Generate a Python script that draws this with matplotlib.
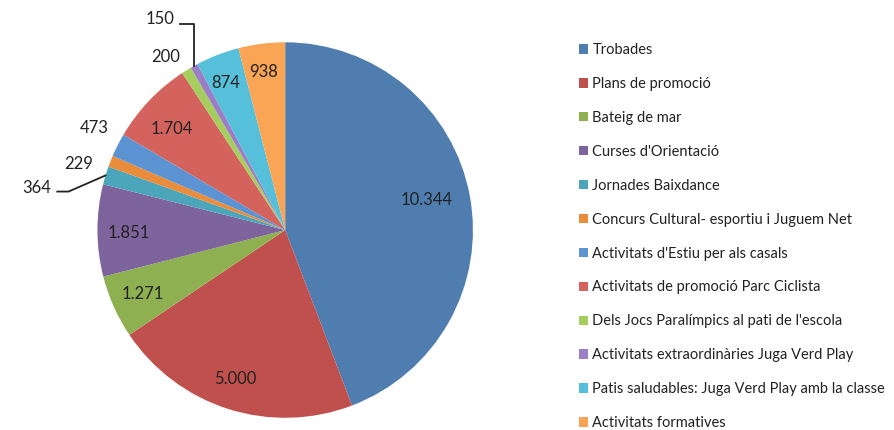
import numpy as np
import matplotlib
matplotlib.use('Agg')
import matplotlib.pyplot as plt

plt.rcParams['font.family'] = ['Lato', 'DejaVu Sans']

# dades
categories = ['Trobades', 'Plans de promoció', 'Bateig de mar', "Curses d'Orientació",
              'Jornades Baixdance', 'Concurs Cultural- esportiu i Juguem Net',
              "Activitats d'Estiu per als casals", 'Activitats de promoció Parc Ciclista',
              "Dels Jocs Paralímpics al pati de l'escola",
              'Activitats extraordinàries Juga Verd Play',
              'Patis saludables: Juga Verd Play amb la classe', 'Activitats formatives']
values = [10344, 5000, 1271, 1851, 364, 229, 473, 1704, 200, 150, 874, 938]

colors = ['#4F7DAF', '#C0504D', '#8FB050', '#7E649D', '#4BA6BC', '#E98C3B',
          '#5B93D3', '#D4635D', '#A6CE5E', '#9B7EC6', '#56BFD9', '#F9A555']

# posicio radial de cada etiqueta (fraccio del radi) i petit gir en graus
label_r = [0.77, 0.84, 0.83, 0.835, 1.34, 1.155, 1.15, 0.81, 1.12, 1.30, 0.845, 0.85]
label_shift = [1.5, -1, 0, 1, 0, 3.8, -1.2, 1.8, 2.9, 0, 1, 0.7]

fig = plt.figure(figsize=(8.94, 4.30), dpi=100)
ax = fig.add_axes((0.109, 0.028, 0.42, 0.874))

wedges, _ = ax.pie(values, colors=colors, startangle=90, counterclock=False,
                   wedgeprops=dict(linewidth=0))
ax.set_aspect('equal')
ax.set_xlim(-1, 1)
ax.set_ylim(-1, 1)

for w, v, r, s in zip(wedges, values, label_r, label_shift):
    mid = np.deg2rad((w.theta1 + w.theta2) / 2 + s)
    txt = f'{v:,}'.replace(',', '.')
    x, y = r * np.cos(mid), r * np.sin(mid)
    if v in (364, 150):
        ex, ey = np.cos(mid), np.sin(mid)
        if v == 364:
            # linia guia cap a l'esquerra
            x, y = -1.324, 0.223
            ax.plot([x + 0.11, x + 0.17, ex], [y - 0.018, y - 0.018, ey],
                    color='#222222', lw=1.3, clip_on=False)
        else:
            x, y = -0.665, 1.122
            ax.plot([x + 0.105, ex, ex], [y - 0.022, y - 0.022, ey],
                    color='#222222', lw=1.3, clip_on=False)
    ax.text(x, y, txt, ha='center', va='center', fontsize=12, color='#222222',
            clip_on=False)

leg = fig.legend(wedges, categories, loc='upper left', bbox_to_anchor=(0.648, 0.90),
                 frameon=False, fontsize=10.5, labelspacing=1.366, handlelength=0.62,
                 handleheight=0.62, handletextpad=0.27, borderaxespad=0, borderpad=0)
for t in leg.get_texts():
    t.set_color('#222222')

fig.savefig('out.png', dpi=100)
